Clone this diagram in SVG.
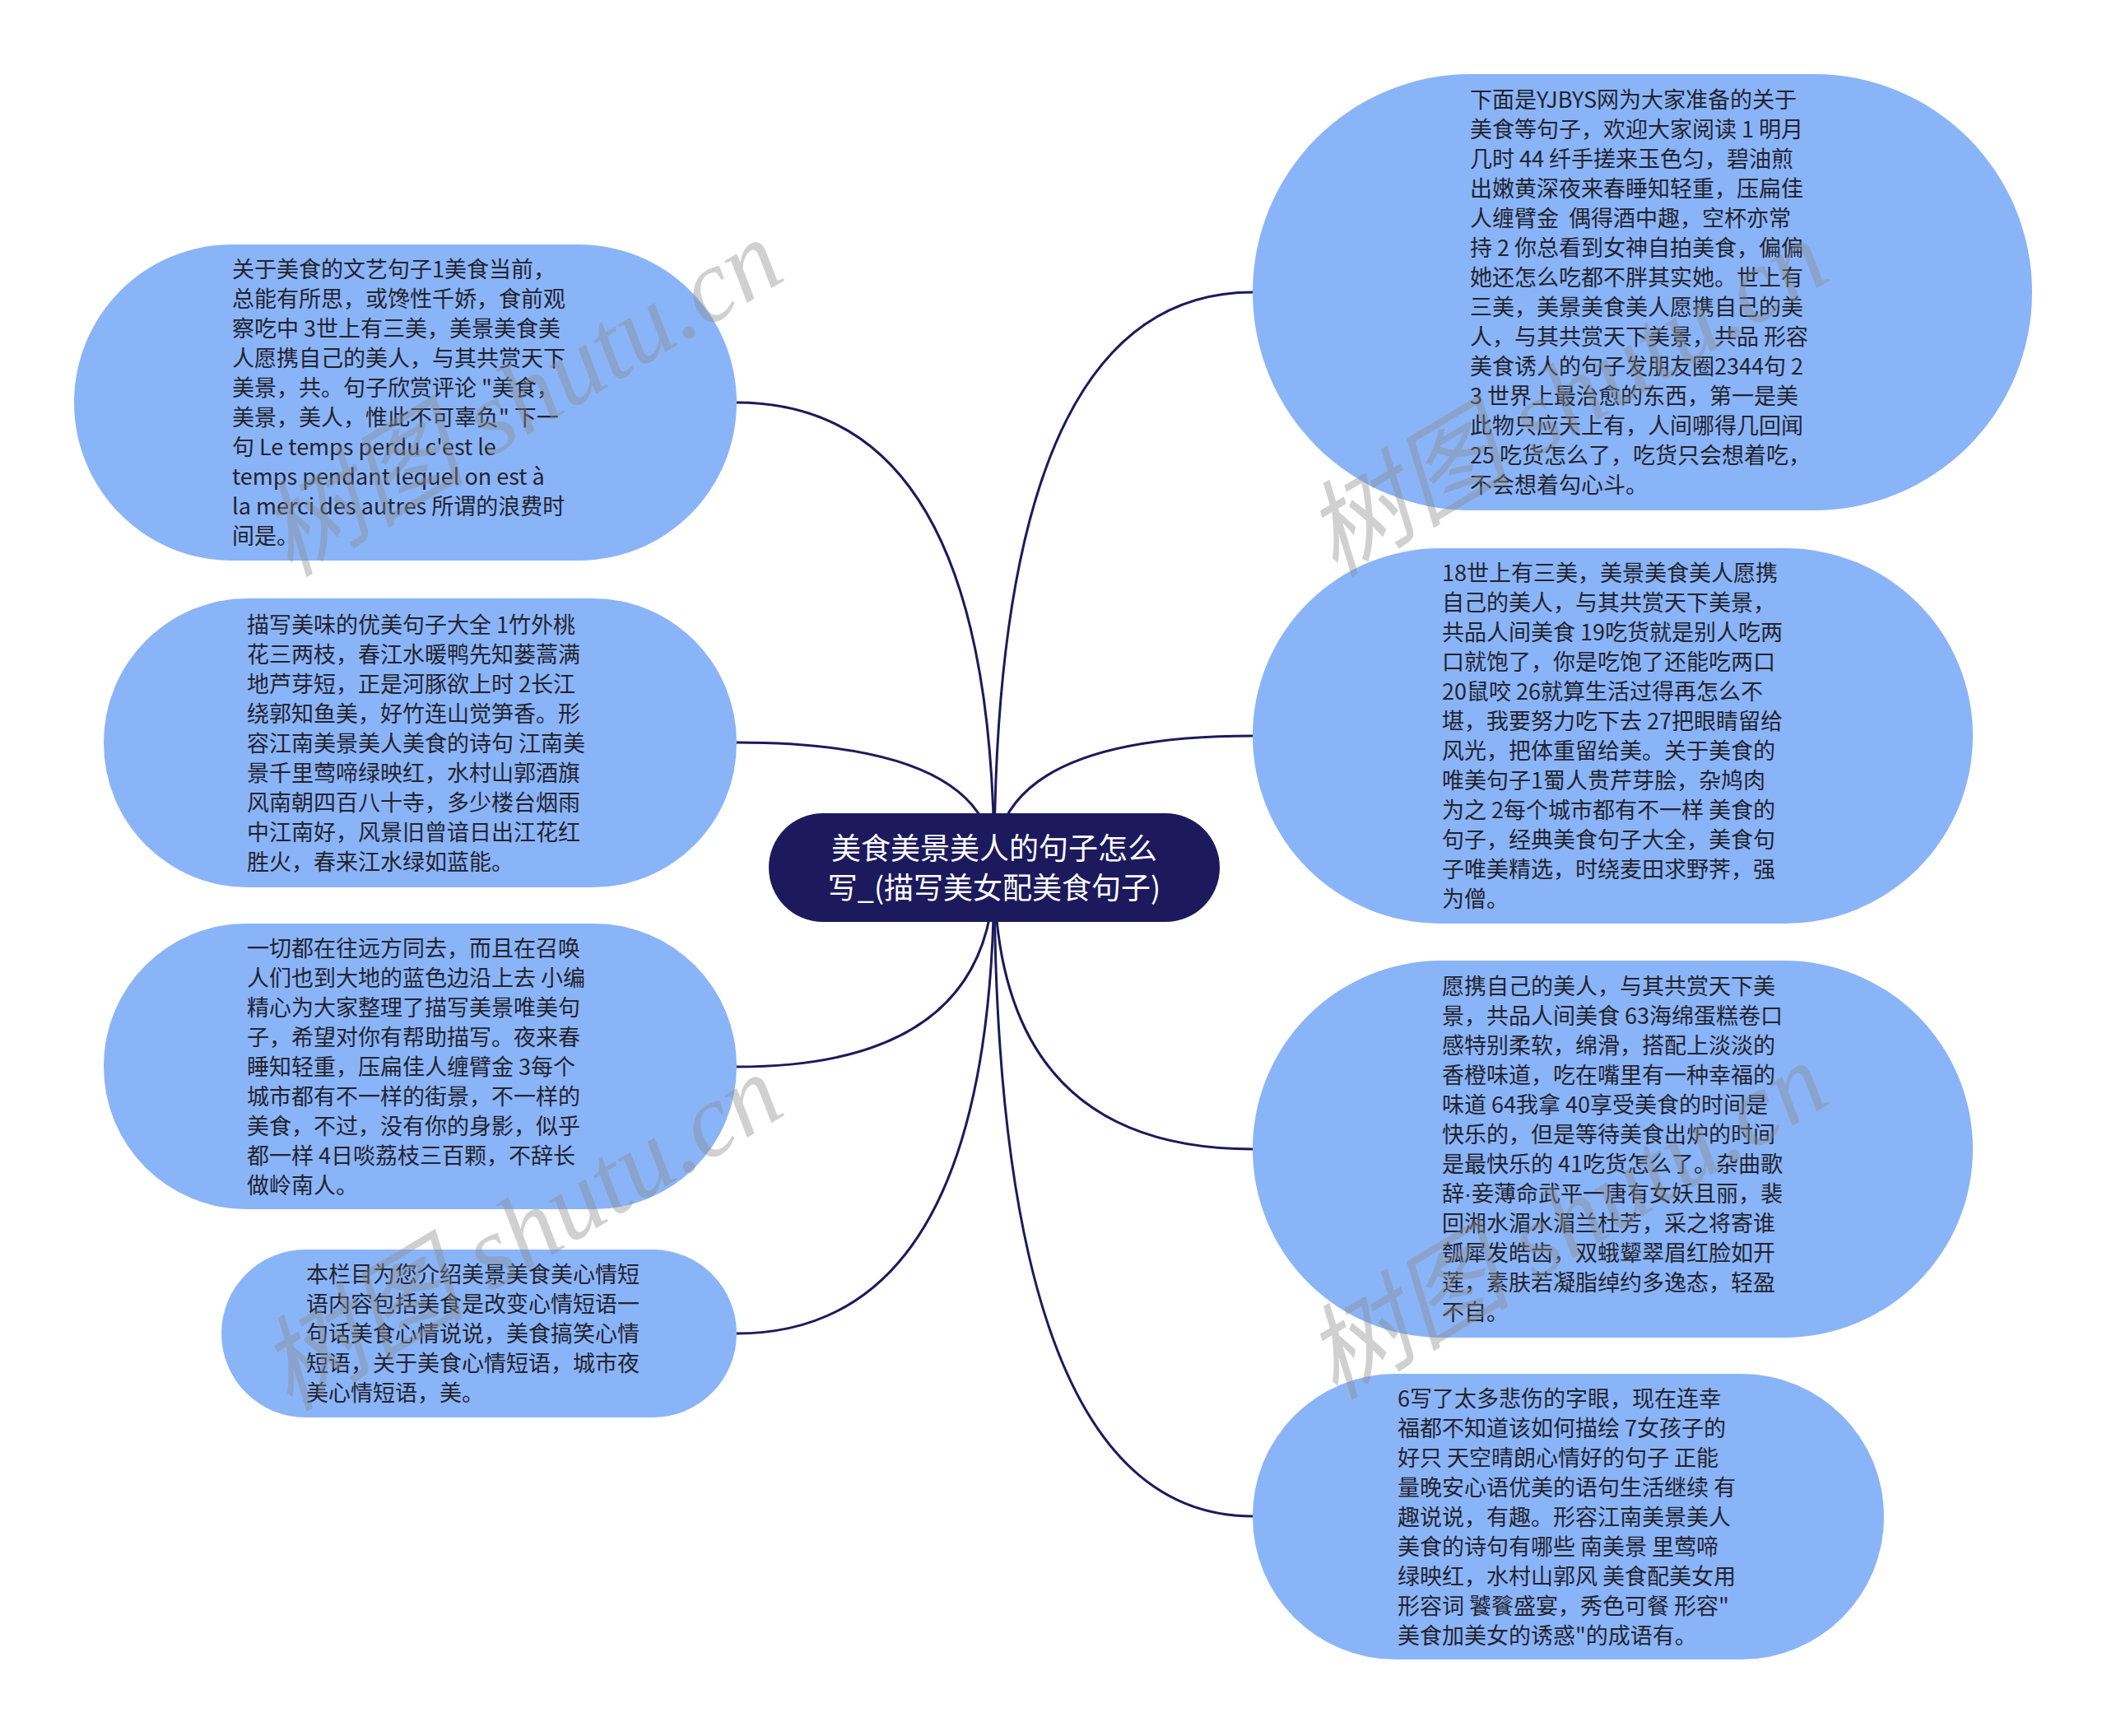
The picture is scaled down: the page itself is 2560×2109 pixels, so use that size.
<svg xmlns="http://www.w3.org/2000/svg" width="2560" height="2109" viewBox="0 0 2560 2109">
<style>
.node{fill:#8ab4f8;}
.center{fill:#1c1a5c;}
.t{font-family:"Noto Sans CJK SC","Liberation Sans",sans-serif;font-size:27px;fill:#23232e;}
.ct{font-family:"Noto Sans CJK SC","Liberation Sans",sans-serif;font-size:36px;fill:#ffffff;text-anchor:middle;}
.link{fill:none;stroke:#1c1a5c;stroke-width:3;}
.wm{font-family:"Liberation Serif","Noto Sans CJK SC",serif;font-style:italic;font-size:126px;fill:#8c8c8c;opacity:0.4;}
.lat{font-family:"Liberation Sans",sans-serif;}
</style>
<rect width="2560" height="2109" fill="#ffffff"/>
<g id="connectors">
<path class="link" d="M1208 1054 Q1208 489 895 489"/>
<path class="link" d="M1208 1054 Q1208 902 895 902"/>
<path class="link" d="M1208 1054 Q1208 1296 895 1296"/>
<path class="link" d="M1208 1054 Q1208 1620 895 1620"/>
<path class="link" d="M1208 1054 Q1208 355 1522 355"/>
<path class="link" d="M1208 1054 Q1208 894 1522 894"/>
<path class="link" d="M1208 1054 Q1208 1396 1522 1396"/>
<path class="link" d="M1208 1054 Q1208 1842 1522 1842"/>
</g>
<g id="center">
<rect class="center" x="934" y="988" width="548" height="132" rx="66" ry="66"/>
<text class="ct" x="1208" y="1044">美食美景美人的句子怎么</text>
<text class="ct" x="1208" y="1092">写_(描写美女配美食句子)</text>
</g>
<g id="left1">
<rect class="node" x="90" y="297" width="805" height="384" rx="192" ry="192"/>
<text class="t" x="282" y="337">关于美食的文艺句子1美食当前，</text>
<text class="t" x="282" y="373">总能有所思，或馋性千娇，食前观</text>
<text class="t" x="282" y="409">察吃中 3世上有三美，美景美食美</text>
<text class="t" x="282" y="445">人愿携自己的美人，与其共赏天下</text>
<text class="t" x="282" y="481">美景，共。句子欣赏评论 "美食，</text>
<text class="t" x="282" y="517">美景，美人，惟此不可辜负" 下一</text>
<text class="t" x="282" y="553">句 Le temps perdu c'est le</text>
<text class="t" x="282" y="589">temps pendant lequel on est à</text>
<text class="t" x="282" y="625">la merci des autres 所谓的浪费时</text>
<text class="t" x="282" y="661">间是。</text>
</g>
<g id="left2">
<rect class="node" x="126" y="727" width="769" height="351" rx="175" ry="175"/>
<text class="t" x="300" y="769">描写美味的优美句子大全 1竹外桃</text>
<text class="t" x="300" y="805">花三两枝，春江水暖鸭先知蒌蒿满</text>
<text class="t" x="300" y="841">地芦芽短，正是河豚欲上时 2长江</text>
<text class="t" x="300" y="877">绕郭知鱼美，好竹连山觉笋香。形</text>
<text class="t" x="300" y="913">容江南美景美人美食的诗句 江南美</text>
<text class="t" x="300" y="949">景千里莺啼绿映红，水村山郭酒旗</text>
<text class="t" x="300" y="985">风南朝四百八十寺，多少楼台烟雨</text>
<text class="t" x="300" y="1021">中江南好，风景旧曾谙日出江花红</text>
<text class="t" x="300" y="1057">胜火，春来江水绿如蓝能。</text>
</g>
<g id="left3">
<rect class="node" x="126" y="1122" width="769" height="347" rx="173" ry="173"/>
<text class="t" x="300" y="1162">一切都在往远方同去，而且在召唤</text>
<text class="t" x="300" y="1198">人们也到大地的蓝色边沿上去 小编</text>
<text class="t" x="300" y="1234">精心为大家整理了描写美景唯美句</text>
<text class="t" x="300" y="1270">子，希望对你有帮助描写。夜来春</text>
<text class="t" x="300" y="1306">睡知轻重，压扁佳人缠臂金 3每个</text>
<text class="t" x="300" y="1342">城市都有不一样的街景，不一样的</text>
<text class="t" x="300" y="1378">美食，不过，没有你的身影，似乎</text>
<text class="t" x="300" y="1414">都一样 4日啖荔枝三百颗，不辞长</text>
<text class="t" x="300" y="1450">做岭南人。</text>
</g>
<g id="left4">
<rect class="node" x="269" y="1518" width="626" height="204" rx="102" ry="102"/>
<text class="t" x="372" y="1558">本栏目为您介绍美景美食美心情短</text>
<text class="t" x="372" y="1594">语内容包括美食是改变心情短语一</text>
<text class="t" x="372" y="1630">句话美食心情说说，美食搞笑心情</text>
<text class="t" x="372" y="1666">短语，关于美食心情短语，城市夜</text>
<text class="t" x="372" y="1702">美心情短语，美。</text>
</g>
<g id="right1">
<rect class="node" x="1522" y="90" width="947" height="530" rx="265" ry="265"/>
<text class="t" x="1786" y="131">下面是YJBYS网为大家准备的关于</text>
<text class="t" x="1786" y="167">美食等句子，欢迎大家阅读 1 明月</text>
<text class="t" x="1786" y="203">几时 44 纤手搓来玉色匀，碧油煎</text>
<text class="t" x="1786" y="239">出嫩黄深夜来春睡知轻重，压扁佳</text>
<text class="t" x="1786" y="275" xml:space="preserve">人缠臂金  偶得酒中趣，空杯亦常</text>
<text class="t" x="1786" y="311">持 2 你总看到女神自拍美食，偏偏</text>
<text class="t" x="1786" y="347">她还怎么吃都不胖其实她。世上有</text>
<text class="t" x="1786" y="383">三美，美景美食美人愿携自己的美</text>
<text class="t" x="1786" y="419">人，与其共赏天下美景，共品 形容</text>
<text class="t" x="1786" y="455">美食诱人的句子发朋友圈2344句 2</text>
<text class="t" x="1786" y="491">3 世界上最治愈的东西，第一是美</text>
<text class="t" x="1786" y="527">此物只应天上有，人间哪得几回闻</text>
<text class="t" x="1786" y="563">25 吃货怎么了，吃货只会想着吃，</text>
<text class="t" x="1786" y="599">不会想着勾心斗。</text>
</g>
<g id="right2">
<rect class="node" x="1522" y="666" width="875" height="456" rx="228" ry="228"/>
<text class="t" x="1752" y="706">18世上有三美，美景美食美人愿携</text>
<text class="t" x="1752" y="742">自己的美人，与其共赏天下美景，</text>
<text class="t" x="1752" y="778">共品人间美食 19吃货就是别人吃两</text>
<text class="t" x="1752" y="814">口就饱了，你是吃饱了还能吃两口</text>
<text class="t" x="1752" y="850">20鼠咬 26就算生活过得再怎么不</text>
<text class="t" x="1752" y="886">堪，我要努力吃下去 27把眼睛留给</text>
<text class="t" x="1752" y="922">风光，把体重留给美。关于美食的</text>
<text class="t" x="1752" y="958">唯美句子1蜀人贵芹芽脍，杂鸠肉</text>
<text class="t" x="1752" y="994">为之 2每个城市都有不一样 美食的</text>
<text class="t" x="1752" y="1030">句子，经典美食句子大全，美食句</text>
<text class="t" x="1752" y="1066">子唯美精选，时绕麦田求野荠，强</text>
<text class="t" x="1752" y="1102">为僧。</text>
</g>
<g id="right3">
<rect class="node" x="1522" y="1167" width="875" height="458" rx="229" ry="229"/>
<text class="t" x="1752" y="1208">愿携自己的美人，与其共赏天下美</text>
<text class="t" x="1752" y="1244">景，共品人间美食 63海绵蛋糕卷口</text>
<text class="t" x="1752" y="1280">感特别柔软，绵滑，搭配上淡淡的</text>
<text class="t" x="1752" y="1316">香橙味道，吃在嘴里有一种幸福的</text>
<text class="t" x="1752" y="1352">味道 64我拿 40享受美食的时间是</text>
<text class="t" x="1752" y="1388">快乐的，但是等待美食出炉的时间</text>
<text class="t" x="1752" y="1424">是最快乐的 41吃货怎么了。杂曲歌</text>
<text class="t" x="1752" y="1460">辞<tspan class="lat">·</tspan>妾薄命武平一唐有女妖且丽，裴</text>
<text class="t" x="1752" y="1496">回湘水湄水湄兰杜芳，采之将寄谁</text>
<text class="t" x="1752" y="1532">瓠犀发皓齿，双蛾颦翠眉红脸如开</text>
<text class="t" x="1752" y="1568">莲，素肤若凝脂绰约多逸态，轻盈</text>
<text class="t" x="1752" y="1604">不自。</text>
</g>
<g id="right4">
<rect class="node" x="1522" y="1669" width="767" height="347" rx="173" ry="173"/>
<text class="t" x="1698" y="1709">6写了太多悲伤的字眼，现在连幸</text>
<text class="t" x="1698" y="1745">福都不知道该如何描绘 7女孩子的</text>
<text class="t" x="1698" y="1781">好只 天空晴朗心情好的句子 正能</text>
<text class="t" x="1698" y="1817">量晚安心语优美的语句生活继续 有</text>
<text class="t" x="1698" y="1853">趣说说，有趣。形容江南美景美人</text>
<text class="t" x="1698" y="1889">美食的诗句有哪些 南美景 里莺啼</text>
<text class="t" x="1698" y="1925">绿映红，水村山郭风 美食配美女用</text>
<text class="t" x="1698" y="1961">形容词 饕餮盛宴，秀色可餐 形容"</text>
<text class="t" x="1698" y="1997">美食加美女的诱惑"的成语有。</text>
</g>
<g id="watermarks">
<text class="wm" transform="translate(352 702) rotate(-31)">树图 shutu.cn</text>
<text class="wm" transform="translate(1622 702) rotate(-31)">树图 shutu.cn</text>
<text class="wm" transform="translate(352 1716) rotate(-31)">树图 shutu.cn</text>
<text class="wm" transform="translate(1622 1702) rotate(-31)">树图 shutu.cn</text>
</g>
</svg>
